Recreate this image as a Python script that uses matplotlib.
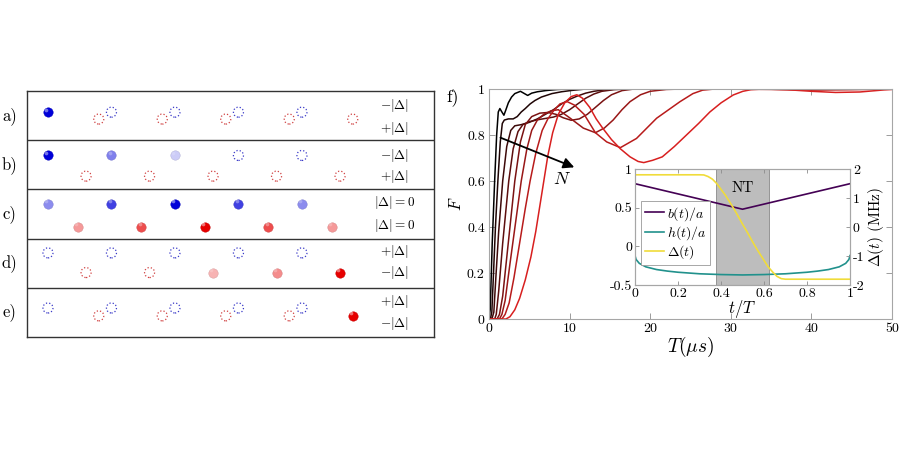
import matplotlib
matplotlib.use('Agg')
import matplotlib.pyplot as plt

plt.rcParams['font.family'] = ['cmr10', 'DejaVu Serif']
plt.rcParams['mathtext.fontset'] = 'cm'
plt.rcParams['axes.unicode_minus'] = False

# ---------------- data: main panel f) ----------------
T1 = [0, 0.15, 0.4, 0.7, 0.95, 1.15, 1.35, 1.6, 1.85, 2.1, 2.4, 2.8, 3.2, 3.9, 4.4, 4.8, 5.3, 6.0, 7.0, 8.5, 10, 50]
F1 = [0, 0.04, 0.33, 0.6, 0.8, 0.9, 0.915, 0.9, 0.886, 0.91, 0.94, 0.965, 0.98, 0.99, 0.98, 0.972, 0.982, 0.988, 0.993, 0.998, 1.0, 1.0]
T2 = [0, 0.2, 0.35, 0.5, 0.8, 1.1, 1.4, 1.65, 1.9, 2.4, 3.0, 3.5, 4.0, 4.5, 5.1, 5.7, 6.5, 7.8, 9.0, 10.3, 12, 50]
F2 = [0, 0.005, 0.03, 0.15, 0.4, 0.6, 0.77, 0.85, 0.865, 0.87, 0.87, 0.88, 0.9, 0.915, 0.935, 0.95, 0.965, 0.98, 0.988, 0.994, 1.0, 1.0]
T3 = [0, 0.4, 0.6, 0.85, 1.2, 1.7, 2.2, 2.7, 3.2, 4.0, 5.0, 6.0, 7.0, 8.0, 9.0, 10.0, 11.0, 12.0, 13.0, 14.5, 16, 50]
F3 = [0, 0.005, 0.03, 0.18, 0.38, 0.6, 0.75, 0.82, 0.84, 0.845, 0.855, 0.87, 0.89, 0.91, 0.935, 0.955, 0.97, 0.982, 0.99, 0.997, 1.0, 1.0]
T4 = [0, 0.7, 0.9, 1.2, 1.7, 2.45, 3.0, 3.6, 4.2, 5.0, 6.0, 7.0, 8.0, 9.0, 10.0, 11.0, 12.0, 13.0, 14.0, 15.5, 17, 50]
F4 = [0, 0.0, 0.02, 0.12, 0.33, 0.6, 0.74, 0.815, 0.845, 0.858, 0.866, 0.872, 0.878, 0.89, 0.91, 0.935, 0.96, 0.978, 0.99, 0.997, 1.0, 1.0]
T5 = [0, 1.0, 1.3, 1.7, 2.3, 3.2, 3.9, 4.5, 5.3, 6.3, 7.3, 8.3, 9.2, 10.2, 11.2, 12.2, 13.2, 14.2, 15.2, 16.5, 18, 50]
F5 = [0, 0.0, 0.02, 0.1, 0.3, 0.6, 0.77, 0.845, 0.88, 0.895, 0.898, 0.89, 0.875, 0.864, 0.87, 0.89, 0.92, 0.95, 0.975, 0.993, 1.0, 1.0]
T6 = [0, 1.3, 1.6, 2.0, 2.6, 3.3, 4.0, 4.7, 5.3, 6.0, 6.8, 7.7, 8.6, 10.0, 11.7, 13.2, 14.3, 15.4, 16.5, 17.5, 18.8, 20.0, 22.0, 24, 50]
F6 = [0, 0.0, 0.02, 0.08, 0.24, 0.42, 0.6, 0.74, 0.82, 0.865, 0.89, 0.905, 0.91, 0.875, 0.83, 0.81, 0.83, 0.865, 0.91, 0.945, 0.975, 0.99, 0.998, 1.0, 1.0]
T7 = [0, 1.6, 2.0, 2.5, 3.1, 3.8, 4.5, 5.1, 5.8, 6.6, 7.3, 8.0, 8.8, 9.7, 10.6, 11.8, 13.2, 14.6, 16.3, 18.3, 20.8, 23.7, 25.3, 26.5, 28, 35, 40, 45, 50]
F7 = [0, 0.0, 0.02, 0.07, 0.18, 0.33, 0.48, 0.6, 0.72, 0.82, 0.87, 0.905, 0.935, 0.945, 0.93, 0.89, 0.81, 0.77, 0.745, 0.785, 0.873, 0.945, 0.98, 0.995, 1.0, 0.998, 0.995, 0.997, 1.0]
T8 = [0, 2.1, 2.6, 3.2, 3.8, 4.5, 5.2, 5.8, 6.3, 6.8, 7.3, 7.9, 8.6, 9.4, 10.2, 10.9, 11.6, 12.5, 13.3, 14.1, 15.2, 16.3, 17.5,
      18.5, 19.2, 20.3, 21.5, 23.0, 24.5, 26.0, 27.4, 28.8, 30.3, 31.5, 32.5, 34, 37, 40, 43, 46, 49, 50]
F8 = [0, 0.0, 0.01, 0.04, 0.09, 0.17, 0.27, 0.38, 0.49, 0.6, 0.71, 0.81, 0.89, 0.94, 0.967, 0.975, 0.96, 0.92, 0.87, 0.83, 0.78, 0.74, 0.705,
      0.685, 0.68, 0.69, 0.705, 0.75, 0.8, 0.85, 0.9, 0.94, 0.974, 0.99, 0.997, 1.0, 0.997, 0.99, 0.985, 0.987, 0.996, 0.998]
curves_T = [T1, T2, T3, T4, T5, T6, T7, T8]
curves_F = [F1, F2, F3, F4, F5, F6, F7, F8]
curve_colors = ['#000000', '#1f0505', '#3d0909', '#5c0e0e', '#7a1212', '#991717', '#b81b1b', '#d81f1f']
main_xticks = [0, 10, 20, 30, 40, 50]
main_yticks = [0, 0.2, 0.4, 0.6, 0.8, 1]
main_yticklabels = ['0', '0.2', '0.4', '0.6', '0.8', '1']

# ---------------- data: inset ----------------
t_b = [0, 0.5, 1]
b_vals = [0.81, 0.48, 0.81]
t_h = [0, 0.005, 0.02, 0.05, 0.1, 0.15, 0.2, 0.3, 0.4, 0.5, 0.6, 0.7, 0.8, 0.85, 0.9, 0.95, 0.98, 0.995, 1]
h_vals = [-0.12, -0.17, -0.22, -0.265, -0.3, -0.32, -0.335, -0.355, -0.365, -0.37, -0.365, -0.355, -0.335, -0.32, -0.3, -0.265, -0.22, -0.17, -0.12]
t_d = [0, 0.3, 0.32, 0.34, 0.36, 0.38, 0.4, 0.42, 0.45, 0.47, 0.5, 0.52, 0.55, 0.57, 0.6, 0.62, 0.64, 0.66, 0.68, 0.7, 1]
d_vals = [1.8, 1.8, 1.795, 1.74, 1.65, 1.5, 1.3, 1.1, 0.75, 0.5, 0.1, -0.15, -0.55, -0.8, -1.15, -1.38, -1.55, -1.7, -1.78, -1.8, -1.8]
nt_window = [0.375, 0.625]
inset_xticks = [0, 0.2, 0.4, 0.6, 0.8, 1]
inset_xticklabels = ['0', '0.2', '0.4', '0.6', '0.8', '1']
inset_yticks = [-0.5, 0, 0.5, 1]
inset_yticklabels = ['-0.5', '0', '0.5', '1']
inset_y2ticks = [-2, -1, 0, 1, 2]
inset_y2ticklabels = ['-2', '-1', '0', '1', '2']

# ---------------- data: schematic panels a)-e) ----------------
row_names = ['a)', 'b)', 'c)', 'd)', 'e)']
blue_sites = [0, 1, 2, 3, 4]
red_shift = [0.8, 0.6, 0.47, 0.6, 0.8]
blue_level = [[1, 0, 0, 0, 0], [1, 0.5, 0.2, 0, 0], [0.45, 0.75, 1, 0.75, 0.45], [0, 0, 0, 0, 0], [0, 0, 0, 0, 0]]
red_level = [[0, 0, 0, 0, 0], [0, 0, 0, 0, 0], [0.4, 0.7, 1, 0.7, 0.4], [0, 0, 0.3, 0.45, 1], [0, 0, 0, 0, 1]]
blue_y = [0.43, 0.31, 0.29, 0.29, 0.41]
red_y = [0.57, 0.73, 0.76, 0.69, 0.57]
top_labels = [r'$-|\Delta|$', r'$-|\Delta|$', r'$|\Delta|=0$', r'$+|\Delta|$', r'$+|\Delta|$']
bot_labels = [r'$+|\Delta|$', r'$+|\Delta|$', r'$|\Delta|=0$', r'$-|\Delta|$', r'$-|\Delta|$']
top_label_y = [0.29, 0.31, 0.27, 0.27, 0.27]
bot_label_y = [0.76, 0.73, 0.74, 0.69, 0.73]

fig = plt.figure(figsize=(9, 4.5), dpi=100)

# ---------------- schematic ----------------
axL = fig.add_axes([27 / 900, 1 - 337 / 450, 407 / 900, 246 / 450])
axL.set_xlim(-0.33, 6.08)
axL.set_ylim(5, 0)
axL.set_xticks([])
axL.set_yticks([])
for sp in axL.spines.values():
    sp.set_color('#333333')
    sp.set_linewidth(1.0)
for r in range(1, 5):
    axL.axhline(r, color='#333333', lw=1.0)


def mix(base, lev):
    return tuple(1 - lev * (1 - c) for c in base)


def sphere(x, y, base, lev):
    col = mix(base, lev)
    edge = tuple(c * 0.85 for c in col)
    axL.scatter([x], [y], s=46, color=[col], edgecolors=[edge], linewidths=0.3, zorder=3)
    axL.scatter([x - 0.025], [y - 0.05], s=7, color='white', alpha=0.35 * lev + 0.1, linewidths=0, zorder=4)


def hollow(x, y, col):
    axL.scatter([x], [y], s=52, facecolors='none', edgecolors=col, linewidths=0.9, linestyle=':', zorder=3)


BLUE = (0.0, 0.0, 0.85)
RED = (0.9, 0.0, 0.0)
for r in range(5):
    for j, s in enumerate(blue_sites):
        lev = blue_level[r][j]
        if lev > 0:
            sphere(s, r + blue_y[r], BLUE, lev)
        else:
            hollow(s, r + blue_y[r], '#3a3ac8')
        lev = red_level[r][j]
        xr = s + red_shift[r]
        if lev > 0:
            sphere(xr, r + red_y[r], RED, lev)
        else:
            hollow(xr, r + red_y[r], '#d04040')
    axL.text(5.46, r + top_label_y[r], top_labels[r], ha='center', va='center', fontsize=9.5)
    axL.text(5.46, r + bot_label_y[r], bot_labels[r], ha='center', va='center', fontsize=9.5)
    axL.text(-0.6, r + 0.5, row_names[r], ha='center', va='center', fontsize=12, clip_on=False)

# ---------------- main panel ----------------
ax = fig.add_axes([489 / 900, 1 - 319 / 450, 403 / 900, 230 / 450])
for T, F, c in zip(curves_T, curves_F, curve_colors):
    ax.plot(T, F, color=c, lw=1.1)
ax.set_xlim(0, 50)
ax.set_ylim(0, 1)
ax.set_xticks(main_xticks)
ax.set_xticklabels([str(v) for v in main_xticks])
ax.set_yticks(main_yticks)
ax.set_yticklabels(main_yticklabels)
ax.tick_params(direction='in', top=True, right=True, length=4, width=0.6, color='0.55', labelsize=10, pad=3)
for sp in ax.spines.values():
    sp.set_color('0.65')
    sp.set_linewidth(0.8)
ax.set_xlabel(r'$T(\mu s)$', fontsize=14, labelpad=0)
ax.set_ylabel(r'$F$', fontsize=12, labelpad=2)
ax.annotate('', xy=(10.9, 0.655), xytext=(1.1, 0.793),
            arrowprops=dict(arrowstyle='-|>', color='k', lw=1.3, mutation_scale=16))
ax.text(9.0, 0.61, r'$N$', ha='center', va='center', fontsize=13)
fig.text(453 / 900, 1 - 97 / 450, 'f)', ha='center', va='center', fontsize=13)

# ---------------- inset ----------------
axI = fig.add_axes([635 / 900, 1 - 285 / 450, 215 / 900, 116 / 450])
axI.set_facecolor('white')
axI.axvspan(nt_window[0], nt_window[1], facecolor='#bdbdbd', edgecolor='#8a8a8a', lw=0.6)
lb, = axI.plot(t_b, b_vals, color='#440154', lw=1.2, label=r'$b(t)/a$')
lh, = axI.plot(t_h, h_vals, color='#21918c', lw=1.2, label=r'$h(t)/a$')
axI.set_xlim(0, 1)
axI.set_ylim(-0.5, 1)
axI.set_xticks(inset_xticks)
axI.set_xticklabels(inset_xticklabels)
axI.set_yticks(inset_yticks)
axI.set_yticklabels(inset_yticklabels)
axI.tick_params(direction='in', top=True, length=3, width=0.6, color='0.55', labelsize=10, pad=2)
axI.text(0.5, 0.75, 'NT', ha='center', va='center', fontsize=11)
axI.set_xlabel(r'$t/T$', fontsize=12, labelpad=-1)
axI2 = axI.twinx()
ld, = axI2.plot(t_d, d_vals, color='#f0dc3a', lw=1.2, label=r'$\Delta(t)$')
axI2.set_ylim(-2, 2)
axI2.set_yticks(inset_y2ticks)
axI2.set_yticklabels(inset_y2ticklabels)
axI2.tick_params(direction='in', length=3, width=0.6, color='0.55', labelsize=10, pad=2)
axI2.set_ylabel(r'$\Delta(t)$ (MHz)', fontsize=11, labelpad=1)
for a in (axI, axI2):
    for sp in a.spines.values():
        sp.set_color('0.65')
        sp.set_linewidth(0.8)
leg = axI2.legend(handles=[lb, lh, ld], loc='upper left', bbox_to_anchor=(0.03, 0.72), fontsize=10,
                  fancybox=False, framealpha=1, edgecolor='0.6', handlelength=1.4, handletextpad=0.2,
                  borderpad=0.25, labelspacing=0.1, borderaxespad=0)
leg.get_frame().set_linewidth(0.6)

fig.savefig('out.png', dpi=100)
